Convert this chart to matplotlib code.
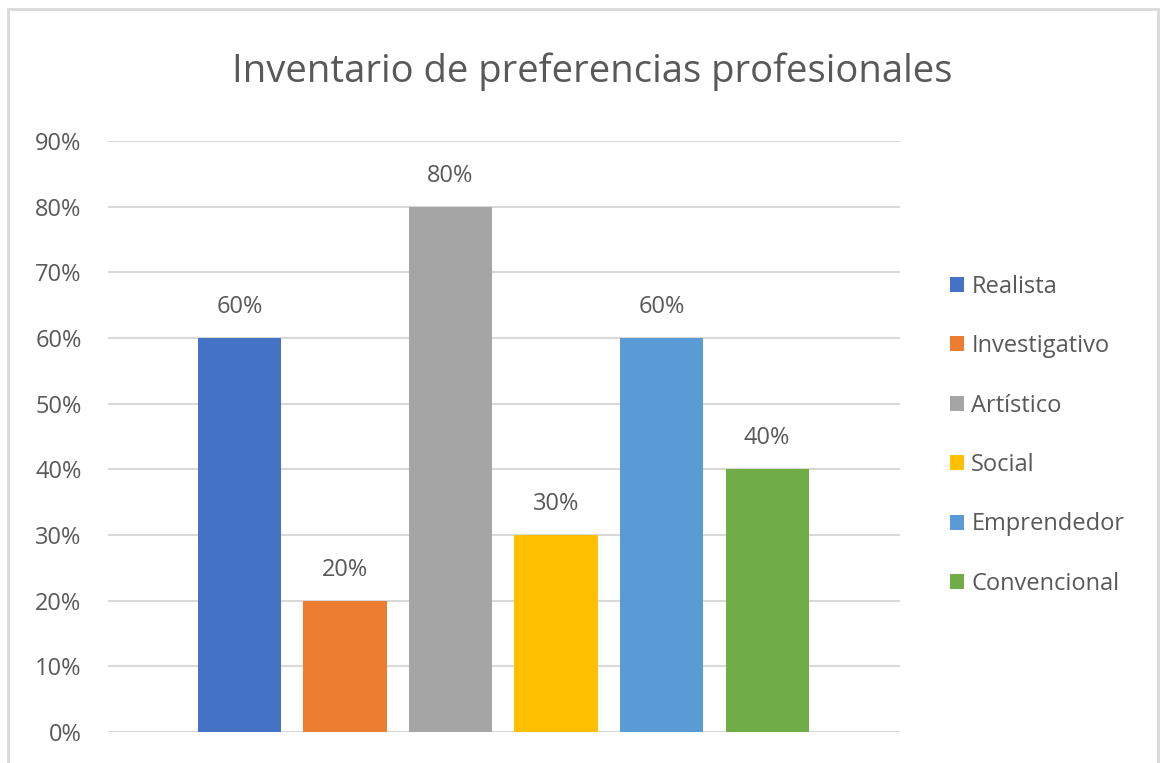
import matplotlib.pyplot as plt
from matplotlib.patches import Rectangle
from matplotlib.ticker import FuncFormatter

# data
categorias = ['Realista', 'Investigativo', 'Artístico', 'Social', 'Emprendedor', 'Convencional']
valores = [0.60, 0.20, 0.80, 0.30, 0.60, 0.40]
colores = ['#4472C4', '#ED7D31', '#A5A5A5', '#FFC000', '#5B9BD5', '#70AD47']
titulo = 'Inventario de preferencias profesionales'

plt.rcParams['font.family'] = ['Open Sans', 'DejaVu Sans']
txt = '#595959'

fig = plt.figure(figsize=(11.65, 7.63), dpi=100)
fig.patches.append(Rectangle((8 / 1165, -0.01), 1150 / 1165, 1 - 9 / 763 + 0.01,
                             transform=fig.transFigure, fill=False,
                             edgecolor='#d9d9d9', linewidth=2))
ax = fig.add_axes([108 / 1165, 1 - 732 / 763, (900 - 108) / 1165, (732 - 141) / 763])

x = range(len(categorias))
bars = ax.bar(x, valores, width=0.787, color=colores, label=categorias, zorder=3)
for b, v in zip(bars, valores):
    ax.text(b.get_x() + b.get_width() / 2, v + 0.047, f'{v:.0%}',
            ha='center', va='center', fontsize=17, color=txt)

ax.set_xlim(-1.246, 6.26)
ax.set_ylim(0, 0.9)
ax.set_yticks([i / 10 for i in range(10)])
ax.yaxis.set_major_formatter(FuncFormatter(lambda v, p: f'{v:.0%}'))
ax.set_xticks([])
ax.grid(axis='y', color='#d9d9d9', linewidth=1.5, zorder=0)
for s in ax.spines.values():
    s.set_visible(False)
ax.tick_params(axis='y', length=0, pad=19, labelsize=17, labelcolor=txt)

fig.text(592 / 1165, 1 - 72 / 763, titulo, ha='center', va='center',
         fontsize=27.5, color=txt)

leg = ax.legend(loc='center left', bbox_to_anchor=((950 - 108) / 792, 0.502), frameon=False,
                fontsize=17, labelcolor=txt, handlelength=0.6, handleheight=0.6,
                handletextpad=0.3, labelspacing=1.5, borderaxespad=0, borderpad=0)

fig.savefig('out.png', dpi=100, facecolor='white')
